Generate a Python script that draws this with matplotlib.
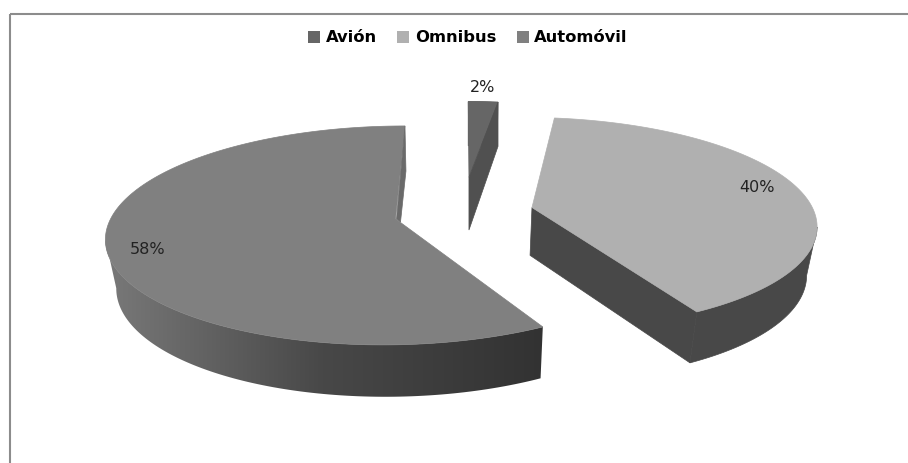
import numpy as np
import matplotlib
matplotlib.use('Agg')
import matplotlib.pyplot as plt
from matplotlib.patches import Patch, Polygon
from matplotlib.colors import LinearSegmentedColormap

# Datos
categorias = ['Avión', 'Omnibus', 'Automóvil']
porcentajes = [2, 40, 58]
etiquetas = ['2%', '40%', '58%']

# Estilo de cada porción
color_tapa = ['#666666', '#B0B0B0', '#808080']
color_lado = ['#505050', '#484848', None]
explosion = [0.35, 0.23, 0.26]
radio = [0.9, 1.0, 1.0]
ancho = [1.1, 0.99, 0.99]
corre_x = [-5, 0, 0]
pos_etiqueta = [(483, 88), (757, 187), (148, 249)]

# Proyección de la tarta (pixeles de la imagen)
X0, Y0, RX, RY, K, ALTO = 468, 212, 285, 104.9, 0.15, 48
FONDO = 0.97  # la base se ve algo más estrecha que la tapa


def proyecta(x, y):
    w = 1 / (1 - K * y)
    return X0 + RX * x * w, Y0 + RY * y * w, ALTO / (1 - 0.07 * y)


fig = plt.figure(figsize=(9.08, 4.63), dpi=100)
ax = fig.add_axes([0, 0, 1, 1])
ax.axis('off')

# Marco: solo arriba e izquierda
ax.plot([10, 908], [14, 14], color='#8C8C8C', lw=1.5, solid_capstyle='butt')
ax.plot([10, 10], [14, 463], color='#8C8C8C', lw=1.5, solid_capstyle='butt')

degradado = LinearSegmentedColormap.from_list('lado', ['#7A7A7A', '#484848', '#323232'])

inicio = 0.0
for i, valor in enumerate(porcentajes):
    barrido = valor / sum(porcentajes) * 2 * np.pi
    medio = inicio + barrido / 2
    ex, ey = explosion[i] * np.sin(medio), -explosion[i] * np.cos(medio)
    t = np.linspace(inicio, inicio + barrido, 200)
    px, py, alto = proyecta(ex + radio[i] * np.sin(t), ey - radio[i] * np.cos(t))
    cx, cy, alto_c = proyecta(ex, ey)
    px = cx + (px - cx) * ancho[i] + corre_x[i]
    cx = cx + corre_x[i]
    bx = X0 + (px - X0) * FONDO
    bcx = X0 + (cx - X0) * FONDO

    # lateral exterior, solo el tramo de delante (entre el extremo y el corte)
    if categorias[i] == 'Omnibus':
        a, b = np.argmax(px), len(t)
    elif categorias[i] == 'Automóvil':
        a, b = 0, np.argmin(px) + 1
    else:
        a, b = 0, len(t)
    contorno = list(zip(px[a:b], py[a:b])) + list(zip(bx[a:b][::-1], (py + alto)[a:b][::-1]))
    if color_lado[i] is None:
        lado = Polygon(contorno, fc='none', ec='none', transform=ax.transData)
        ax.add_patch(lado)
        img = ax.imshow(np.linspace(0, 1, 256).reshape(1, -1), cmap=degradado, aspect='auto',
                        extent=(100, 545, 400, 100), vmin=0, vmax=1, zorder=1)
        img.set_clip_path(lado)
    else:
        ax.add_patch(Polygon(contorno, fc=color_lado[i], ec=color_lado[i], lw=0.5))

    if categorias[i] == 'Omnibus':
        # cara del corte visible delante
        ax.add_patch(Polygon([(cx, cy), (px[-1], py[-1]), (bx[-1], py[-1] + alto[-1]),
                              (bcx, cy + alto_c)], fc=color_lado[i], ec=color_lado[i], lw=0.5))

    # tapa
    ax.add_patch(Polygon(list(zip(px, py)) + [(cx, cy)], fc=color_tapa[i], ec=color_tapa[i], lw=0.5))

    if categorias[i] == 'Avión':
        ax.add_patch(Polygon([(cx, cy), (px[-1], py[-1]), (px[-1], py[-1] + alto[-1]),
                              (cx, cy + alto_c + 6)], fc=color_lado[i], ec=color_lado[i], lw=0.5))
    if categorias[i] == 'Automóvil':
        # filo del corte junto al Avión
        ax.add_patch(Polygon([(px[-1], py[-1]), (px[-1] + 1, py[-1] + alto[-1]),
                              (cx + 5, cy + 3), (cx + 1, cy)], fc='#6A6A6A', ec='#6A6A6A', lw=0.5))

    ax.text(pos_etiqueta[i][0], pos_etiqueta[i][1], etiquetas[i], ha='center', va='center',
            fontsize=11.5, color='#222222')
    inicio += barrido

ax.set_xlim(0, 908)
ax.set_ylim(463, 0)

# Leyenda
handles = [Patch(fc=c, ec='none') for c in color_tapa]
ax.legend(handles, categorias, loc='center', bbox_to_anchor=(468 / 908, 1 - 38 / 463), ncol=3,
          frameon=False, handlelength=0.72, handleheight=0.72, handletextpad=0.35,
          columnspacing=1.25, prop={'weight': 'bold', 'size': 11.8})

fig.savefig('out.png', dpi=100)
